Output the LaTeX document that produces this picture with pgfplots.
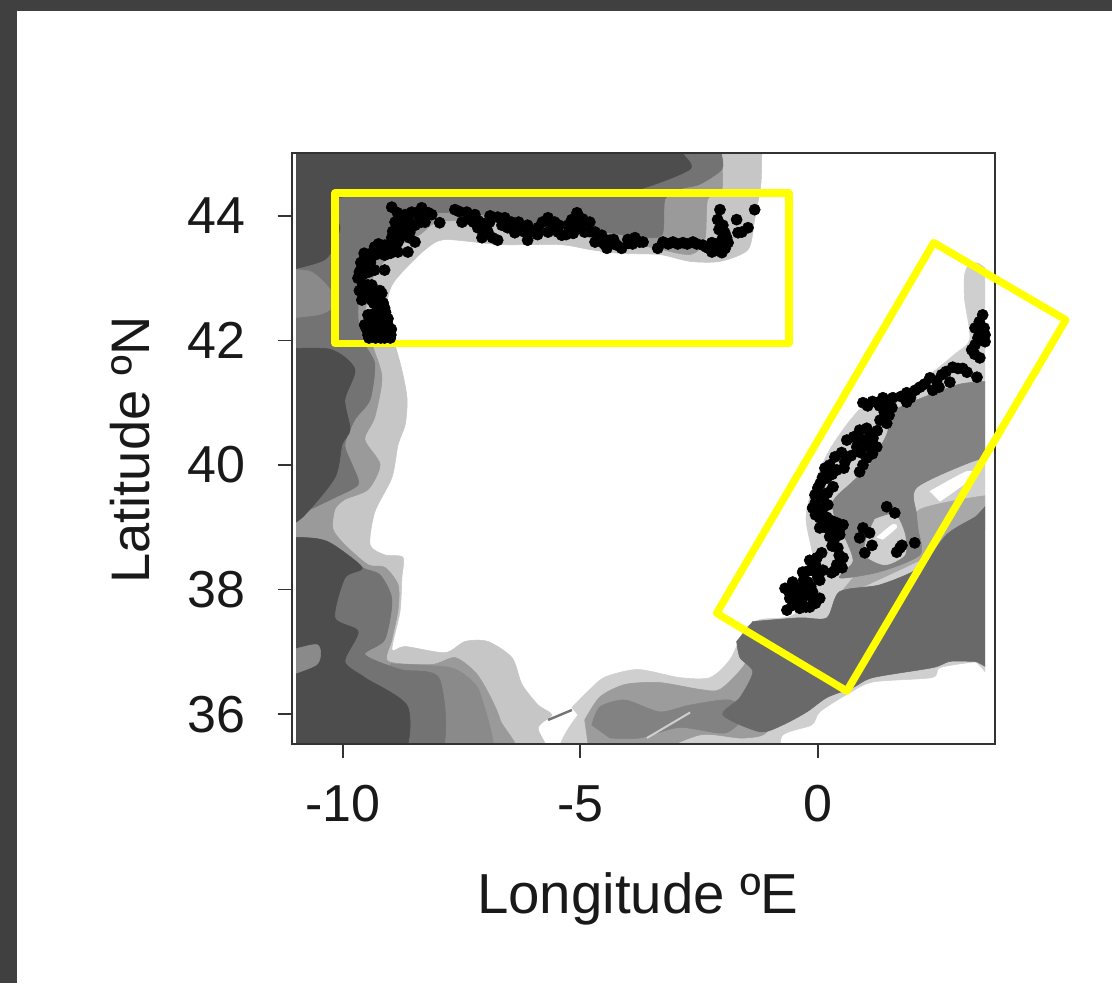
\documentclass[border=0pt]{standalone}
\usepackage{pgfplots}
\pgfplotsset{compat=1.18}
\usepackage{fontspec}
\setmainfont{Liberation Sans}
\definecolor{bgd}{HTML}{404040}
\definecolor{frame}{HTML}{333333}
\definecolor{ga}{HTML}{C6C6C6}
\definecolor{gb}{HTML}{9A9A9A}
\definecolor{gc}{HTML}{737373}
\definecolor{gd}{HTML}{4D4D4D}
\definecolor{ge}{HTML}{8A8A8A}
\definecolor{gm}{HTML}{CFCFCF}
\definecolor{gn}{HTML}{A8A8A8}
\definecolor{gp}{HTML}{828282}
\definecolor{gq}{HTML}{696969}
\definecolor{gr}{HTML}{9C9C9C}
\definecolor{yy}{RGB}{255,255,0}
\pgfplotsset{ba/.style={fill=#1,draw=#1,smooth,tension=0.45}}
\begin{document}
\begin{tikzpicture}
\path[use as bounding box] (-219pt,-179.25pt) rectangle (615pt,558pt);
\fill[bgd] (-219pt,-179.25pt) rectangle (615pt,558pt);
\fill[white] (-206.25pt,-179.25pt) rectangle (615pt,549.75pt);
% bathymetry, clipped to the extent of the grid
\begin{axis}[
  at={(3pt,0.75pt)}, anchor=south west,
  scale only axis, width=516.75pt, height=442.5pt,
  xmin=-10.99, xmax=3.52, ymin=35.53, ymax=45.00,
  hide axis, clip=true,
  every axis plot/.append style={line join=round},
]
% Atlantic and Cantabrian shelf, lightest depth band
\addplot[ba=ga] coordinates {(-11.4,45.4)(-1.3,45.4)(-1.15,45.4)(-1.16,45.2)(-1.18,45.0)(-1.20,44.5)(-1.33,43.94)(-1.47,43.45)(-2.06,43.26)(-2.69,43.26)(-3.33,43.37)(-4.17,43.39)(-4.80,43.45)(-5.43,43.53)(-6.69,43.53)(-7.85,43.61)(-8.27,43.45)(-8.80,43.05)(-9.01,42.81)(-9.12,42.33)(-8.91,41.93)(-8.74,41.45)(-8.65,41.04)(-8.69,40.64)(-8.84,40.32)(-8.97,39.79)(-9.33,39.24)(-9.43,38.71)(-9.12,38.55)(-8.74,38.51)(-8.76,38.18)(-8.80,37.64)(-8.97,37.03)(-8.69,37.08)(-7.85,36.98)(-7.43,37.16)(-6.95,37.16)(-6.44,36.90)(-6.23,36.47)(-5.89,36.14)(-5.60,35.98)(-5.89,35.78)(-6.03,35.2)(-11.4,35.2)} -- cycle;
\addplot[ba=gb] coordinates {(-11.4,45.4)(-2.2,45.4)(-2.05,45.4)(-2.04,45.2)(-2.03,45.0)(-2.02,44.42)(-2.32,44.26)(-2.38,43.61)(-2.69,43.37)(-3.54,43.49)(-4.59,43.61)(-5.43,43.74)(-6.69,43.90)(-7.96,43.90)(-8.38,43.69)(-8.91,43.45)(-9.39,42.97)(-9.54,42.33)(-9.39,41.93)(-9.18,41.40)(-9.33,40.76)(-9.54,40.40)(-9.22,40.00)(-9.47,39.60)(-9.96,39.44)(-10.17,39.28)(-10.21,38.96)(-9.96,38.71)(-9.47,38.39)(-9.12,38.35)(-8.84,38.07)(-8.84,37.67)(-8.97,37.19)(-9.05,36.84)(-8.13,36.79)(-7.64,36.90)(-7.22,36.67)(-6.95,36.35)(-6.69,35.90)(-6.55,35.2)(-11.4,35.2)} -- cycle;
\addplot[ba=ge] coordinates {(-9.0,36.8)(-7.8,36.75)(-7.4,36.6)(-7.1,36.3)(-6.9,35.2)(-9.0,35.2)} -- cycle;
\addplot[ba=gc] coordinates {(-11.4,45.4)(-2.2,45.4)(-2.05,45.4)(-2.04,45.2)(-2.03,45.0)(-2.02,44.74)(-2.48,44.50)(-2.91,44.42)(-3.22,44.26)(-3.28,43.69)(-3.75,43.65)(-4.59,43.74)(-5.85,43.85)(-7.12,44.02)(-8.17,44.02)(-8.80,43.69)(-9.33,43.29)(-9.64,42.81)(-9.68,42.33)(-9.54,41.93)(-9.33,41.61)(-9.43,41.04)(-9.75,40.72)(-9.96,40.32)(-9.81,40.00)(-9.68,39.68)(-10.17,39.47)(-10.91,39.20)(-11.4,39.0)} -- cycle;
\addplot[ba=gc] coordinates {(-11.4,38.82)(-10.32,38.76)(-9.60,38.35)(-9.22,38.23)(-8.97,37.83)(-9.12,37.19)(-9.54,36.95)(-8.80,36.71)(-7.96,36.55)(-8.1,35.2)(-11.4,35.2)} -- cycle;
\addplot[ba=ge] coordinates {(-11.4,43.13)(-10.69,43.10)(-10.27,42.81)(-10.17,42.57)(-10.48,42.41)(-11.4,42.33)} -- cycle;
\addplot[ba=gd] coordinates {(-11.4,45.4)(-3.2,45.4)(-3.0,45.4)(-2.9,45.2)(-2.85,45.0)(-2.69,44.74)(-3.75,44.42)(-4.80,44.30)(-9.96,44.30)(-10.06,43.78)(-10.38,43.29)(-11.4,43.08)} -- cycle;
\addplot[ba=gd] coordinates {(-11.4,41.85)(-10.27,41.85)(-9.75,41.53)(-9.96,41.04)(-9.85,40.56)(-10.02,40.32)(-10.17,39.79)(-10.86,39.15)(-11.4,38.9)} -- cycle;
\addplot[ba=gd] coordinates {(-11.4,38.82)(-10.86,38.83)(-10.32,38.76)(-9.60,38.35)(-9.96,38.18)(-10.17,37.54)(-9.68,37.32)(-9.96,36.84)(-9.54,36.58)(-8.63,36.10)(-8.9,35.2)(-11.4,35.2)} -- cycle;
\addplot[ba=ge] coordinates {(-11.4,36.95)(-10.55,37.11)(-10.55,36.79)(-11.4,36.55)} -- cycle;
% Alboran Sea and western Mediterranean
\addplot[ba=gm] coordinates {(-5.18,36.10)(-4.80,36.39)(-4.48,36.59)(-3.79,36.71)(-2.91,36.58)(-2.27,36.58)(-1.85,36.87)(-1.54,37.35)(-1.22,37.51)(-0.59,37.56)(-0.20,37.83)(-0.10,38.47)(-0.25,39.12)(-0.12,39.60)(0.25,40.24)(0.88,40.88)(1.52,41.04)(2.36,41.45)(2.88,41.77)(3.20,42.01)(3.09,42.65)(3.09,43.05)(3.20,43.22)(3.40,43.22)(3.7,43.0)(3.9,42.5)(3.9,36.84)(3.3,36.83)(2.57,36.74)(2.40,36.58)(1.16,36.51)(0.61,36.31)(0.04,36.03)(-0.13,35.82)(-0.74,35.66)(-1.18,35.2)(-5.3,35.2)(-5.05,35.98)} -- cycle;
\addplot[ba=gr] coordinates {(-4.91,35.90)(-4.59,36.27)(-4.06,36.47)(-3.33,36.50)(-2.48,36.39)(-2.06,36.39)(-1.54,36.79)(-1.22,37.35)(-1.01,35.82)(-1.54,35.61)(-2.48,35.66)(-3.75,35.3)(-4.80,35.3)} -- cycle;
\addplot[ba=gp] coordinates {(-4.76,35.82)(-4.59,36.11)(-4.06,36.22)(-3.33,36.03)(-2.69,36.14)(-1.85,36.22)(-1.54,35.98)(-1.96,35.69)(-2.91,35.78)(-3.75,35.61)(-4.38,35.61)} -- cycle;
\addplot[ba=gn] coordinates {(0.36,37.83)(3.9,39.12)(3.9,39.52)(2.15,39.28)(2.04,38.80)(0.88,38.31)} -- cycle;
\addplot[ba=gp] coordinates {(3.9,41.33)(3.47,41.33)(2.99,41.29)(2.36,41.12)(1.58,40.85)(1.45,40.48)(1.09,40.00)(0.74,39.73)(0.32,39.41)(0.40,39.04)(0.61,38.76)(0.74,38.44)(0.46,38.18)(1.31,38.28)(2.15,38.55)(2.11,38.96)(2.08,39.20)(2.08,39.63)(3.26,40.05)(3.9,40.15)} -- cycle;
\addplot[ba=gq] coordinates {(-1.37,37.48)(-0.38,37.54)(0.19,37.54)(0.46,37.96)(1.31,38.07)(2.15,38.35)(2.72,38.88)(3.3,39.15)(3.9,39.4)(3.9,36.84)(3.3,36.84)(2.78,36.84)(2.42,36.74)(1.16,36.58)(0.74,36.42)(0.19,36.26)(-0.23,36.03)(-0.74,35.82)(-1.22,35.71)(-2.00,35.98)(-1.64,36.26)(-1.37,36.67)(-1.64,36.90)(-1.71,37.16)} -- cycle;
\addplot[ba=gm] coordinates {(1.20,39.12)(1.62,39.20)(1.83,38.88)(1.83,38.55)(1.41,38.39)(0.99,38.55)(1.05,38.88)} -- cycle;
\addplot[ba=white] coordinates {(1.24,38.83)(1.58,39.04)(1.66,38.99)(1.37,38.80)} -- cycle;
\addplot[ba=white] coordinates {(2.36,39.57)(3.14,39.89)(3.26,39.79)(2.57,39.41)} -- cycle;
\addplot[gm,line width=1.5pt] coordinates {(-3.60,35.61)(-2.69,36.02)};
\addplot[gc,line width=1.8pt] coordinates {(-5.68,35.90)(-5.18,36.06)};
\end{axis}
\begin{axis}[
  at={(0pt,0pt)}, anchor=south west,
  scale only axis, width=527.25pt, height=443.25pt,
  xmin=-11.07, xmax=3.73, ymin=35.52, ymax=45.01,
  clip=false,
  axis line style={frame, line width=1.4pt},
  xtick={-10,-5,0}, xticklabels={-10,-5,0},
  ytick={36,38,40,42,44}, yticklabels={36,38,40,42,44},
  xtick pos=bottom, ytick pos=left, tick align=outside,
  major tick length=10.5pt,
  tick style={frame, line width=1.4pt},
  tick label style={font=\fontsize{39}{45}\selectfont, text=black!90},
  xticklabel style={yshift=-17pt},
  yticklabel style={xshift=-21pt},
  xlabel={Longitude ºE}, ylabel={Latitude ºN},
  x label style={at={(axis description cs:0.492,-0.2555)},anchor=center,yshift=-3pt,font=\fontsize{42.3}{48}\selectfont, text=black!90},
  y label style={at={(axis description cs:-0.2304,0.4975)},anchor=center,font=\fontsize{40.7}{46}\selectfont, text=black!90},
]
% Sightings, Cantabrian and Galician coast
\addplot[only marks,mark=*,mark size=4.2pt,black] coordinates {
(-9.41,42.25)(-9.22,42.30)(-9.05,42.25)(-9.35,42.12)(-9.18,42.12)(-8.99,42.09)(-9.47,42.09)(-9.12,42.04)(-9.31,42.04)
(-9.41,42.41)(-9.22,42.46)(-9.26,42.57)(-9.12,42.52)(-9.54,42.25)(-9.47,42.41)
(-9.47,42.73)(-9.18,42.76)(-9.33,42.70)(-9.47,42.89)(-9.58,43.05)(-9.39,42.89)(-9.60,43.16)(-9.68,43.00)(-9.58,42.89)
(-9.54,43.33)(-9.12,43.37)(-9.33,43.37)(-8.84,43.42)(-8.63,43.42)(-9.12,43.53)(-8.84,43.58)(-8.48,43.58)
(-8.84,43.81)(-8.48,43.85)(-8.69,44.02)(-8.34,44.13)(-8.97,44.14)(-8.13,44.02)(-7.96,43.89)(-8.27,43.90)
(-9.33,43.13)(-9.54,43.21)(-9.12,43.13)(-8.69,43.69)(-8.59,43.74)(-8.80,43.97)(-8.55,44.06)(-8.97,43.65)(-9.01,43.45)(-9.33,43.50)(-8.69,43.85)(-8.38,43.97)
(-9.45,42.04)(-9.20,42.04)(-9.00,42.04)(-9.50,42.18)(-9.28,42.18)(-9.08,42.18)(-8.98,42.18)(-9.35,42.35)(-9.15,42.35)(-9.05,42.35)
(-9.30,42.45)(-9.10,42.45)(-9.35,42.60)(-9.15,42.60)(-9.60,42.65)(-9.40,42.65)(-9.25,42.65)(-9.65,42.80)(-9.40,42.80)(-9.22,42.80)
(-9.65,43.10)(-9.45,43.10)(-9.62,43.25)(-9.42,43.25)(-9.55,43.40)(-9.40,43.40)(-9.25,43.40)(-9.00,43.40)(-9.25,43.55)(-9.00,43.55)(-8.88,43.55)
(-8.80,43.65)(-8.60,43.65)(-8.95,43.75)(-8.75,43.75)(-8.90,43.90)(-8.60,43.90)(-8.35,43.90)(-8.85,44.05)(-8.45,44.05)(-8.20,44.05)
(-7.64,44.10)(-7.49,43.90)(-7.22,44.02)(-7.01,43.74)(-7.07,43.65)(-6.74,43.61)(-6.74,43.98)(-6.53,43.81)(-6.38,43.73)(-6.11,43.85)(-6.11,43.61)
(-5.68,43.97)(-5.68,43.74)(-5.39,43.69)(-5.26,43.85)(-5.07,44.05)(-4.80,43.90)(-4.91,43.74)(-4.69,43.58)(-4.55,43.69)(-4.44,43.48)(-4.23,43.53)(-4.13,43.48)(-3.85,43.65)(-3.68,43.58)
(-7.39,44.06)(-7.16,43.81)(-6.91,43.90)(-6.59,43.97)(-6.27,43.81)(-5.89,43.81)(-5.54,43.90)(-5.47,43.74)(-5.12,43.81)(-5.18,43.94)(-4.69,43.74)(-4.38,43.61)(-3.99,43.56)
(-7.55,44.07)(-7.35,43.95)(-7.15,43.92)(-7.00,43.88)(-6.95,43.75)(-7.25,43.90)(-6.85,43.65)(-6.90,44.00)(-6.65,43.85)(-6.45,43.90)(-6.30,43.90)(-6.20,43.75)(-6.00,43.75)(-5.80,43.90)(-5.90,43.70)(-5.60,43.85)(-5.45,43.85)(-5.30,43.70)(-5.15,43.72)(-5.00,43.85)(-4.95,43.95)(-4.80,43.75)(-4.60,43.60)(-4.50,43.55)(-4.30,43.62)(-4.00,43.62)(-3.90,43.55)
(-3.75,43.58)(-3.37,43.48)(-3.26,43.58)(-3.05,43.58)(-2.84,43.57)(-2.63,43.58)(-2.42,43.53)(-2.23,43.42)(-2.02,43.41)(-2.23,43.57)(-2.06,43.57)(-1.89,43.57)(-1.96,43.73)(-2.11,43.94)(-2.06,44.10)(-2.00,43.85)(-1.71,43.94)(-1.68,43.73)(-1.47,43.81)(-1.33,44.10)(-1.60,43.74)
(-3.15,43.55)(-2.95,43.55)(-2.75,43.55)(-2.55,43.55)(-2.35,43.50)(-2.15,43.45)(-2.30,43.48)(-2.10,43.50)(-1.95,43.48)(-2.00,43.65)(-2.08,43.78)(-1.92,43.65)
};
% Sightings, Mediterranean coast
\addplot[only marks,mark=*,mark size=4.2pt,black] coordinates {
(3.47,42.41)(3.31,42.20)(3.47,42.20)(3.52,41.98)(3.37,42.04)(3.24,41.85)(3.41,41.72)(3.35,41.41)(3.14,41.49)(2.84,41.57)(2.78,41.33)(2.61,41.45)(2.36,41.40)(2.42,41.20)(2.15,41.25)(1.87,41.16)(1.87,41.01)(1.58,41.08)(1.37,41.08)(1.26,41.00)(1.56,40.92)(0.95,41.00)(1.45,40.67)(1.31,40.72)(1.03,40.59)(0.88,40.56)(1.16,40.43)(0.61,40.40)
(3.52,42.09)(3.50,42.20)(3.31,41.93)
(3.40,42.30)(3.42,42.12)(3.45,42.05)(3.30,41.78)(3.05,41.55)(2.95,41.55)(2.70,41.50)(2.50,41.35)(2.55,41.25)(2.25,41.30)(2.05,41.20)(1.95,41.08)(1.75,41.10)(1.45,41.02)(1.15,41.02)(1.05,40.95)(1.40,40.85)(1.30,40.95)(1.50,40.80)(1.25,40.55)(1.10,40.50)(0.75,40.45)(0.95,40.40)(1.05,40.30)(0.90,40.20)(1.15,40.18)(0.70,40.15)(0.95,40.00)(0.50,40.20)
(0.82,40.29)(1.24,40.29)(1.03,40.11)(0.88,39.89)(0.36,40.13)(0.57,40.05)(0.15,39.95)(0.40,39.92)(0.00,39.63)(0.32,39.65)(0.11,39.47)(-0.11,39.31)(0.04,39.15)(0.19,39.16)(0.40,39.07)(0.53,39.04)(0.04,38.99)(0.25,38.96)(0.36,38.83)(0.42,38.67)(0.53,38.51)(0.51,38.35)(0.29,38.27)(0.08,38.59)(-0.17,38.47)(-0.02,38.51)(-0.32,38.28)(-0.11,38.31)(0.11,38.31)(0.04,38.15)(-0.53,38.12)(-0.69,38.02)(-0.38,38.02)(-0.11,37.96)(0.04,37.86)(-0.59,37.86)(-0.32,37.86)(-0.65,37.67)(-0.38,37.70)(-0.17,37.72)(-0.53,37.75)
(-0.48,37.96)(-0.21,38.12)(0.19,39.79)(0.21,39.36)(-0.06,39.52)(0.46,38.88)
(0.25,40.00)(0.30,39.85)(0.55,39.95)(0.10,39.80)(0.05,39.70)(0.20,39.55)(0.00,39.50)(-0.05,39.40)(0.10,39.30)(-0.05,39.20)(0.15,39.00)(0.30,39.10)(0.45,38.95)(0.25,38.85)(0.30,38.70)(0.45,38.55)(0.40,38.40)(0.35,38.30)(-0.05,38.40)(-0.20,38.30)(0.00,38.20)(-0.30,38.15)(-0.45,38.00)(-0.60,37.95)(-0.25,37.95)(-0.10,37.85)(-0.45,37.85)(-0.25,37.72)(-0.05,37.78)(-0.50,38.05)(-0.15,38.05)(-0.30,38.00)
(1.45,39.33)(1.62,39.23)(0.95,38.99)(0.88,38.83)(1.09,38.91)(1.14,38.71)(0.99,38.59)(1.73,38.67)(1.66,38.60)(1.77,38.71)(2.04,38.75)
};
% Study areas
\addplot[yy,line width=5.6pt,line join=round] coordinates {(-10.16,44.37)(-0.61,44.37)(-0.61,41.95)(-10.16,41.95)} -- cycle;
\addplot[yy,line width=5.6pt,line join=round] coordinates {(2.44,43.57)(5.22,42.33)(0.61,36.37)(-2.13,37.62)} -- cycle;
\end{axis}
\end{tikzpicture}
\end{document}
